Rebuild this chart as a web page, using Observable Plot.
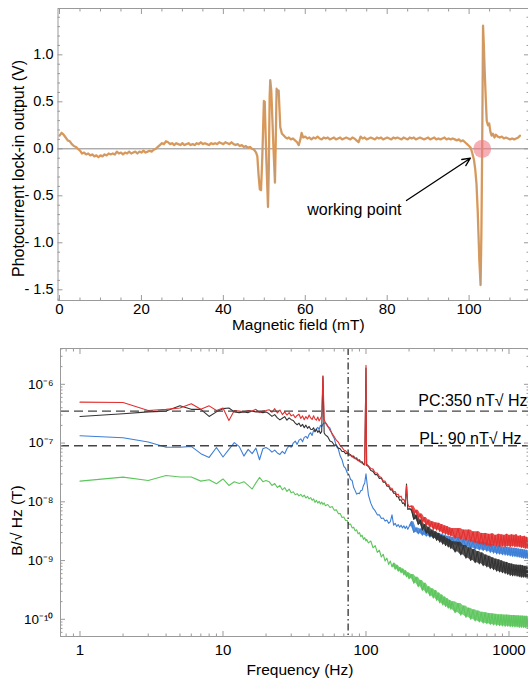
<!DOCTYPE html>
<html><head><meta charset="utf-8">
<script src="https://cdn.jsdelivr.net/npm/d3@7"></script>
<script src="https://cdn.jsdelivr.net/npm/@observablehq/plot@0.6"></script>
<style>
body{margin:0;background:#fff;width:528px;height:681px;overflow:hidden;font-family:"Liberation Sans",Arial,sans-serif}
#chart svg{display:block}
</style></head><body><div id="chart"></div>
<script>
// ---------- top panel data ----------
const fieldMT = [0,0.5,1,1.5,2,2.5,3,3.5,4,4.5,5,5.5,6,6.5,7,7.5,8,8.5,9,9.5,10,10.5,11,11.5,12,12.5,13,13.5,14,14.5,15,15.5,16,16.5,17,17.5,18,18.5,19,19.5,20,20.5,21,21.5,22,22.5,23,23.5,24,24.5,25,25.5,26,26.5,27,27.5,28,28.5,29,29.5,30,30.5,31,31.5,32,32.5,33,33.5,34,34.5,35,35.5,36,36.5,37,37.5,38,38.5,39,39.5,40,40.5,41,41.5,42,42.5,43,43.5,44,44.5,45,45.5,46,46.5,47,47.5,48,48.3,48.6,48.9,49.2,49.5,49.9,50.1,50.5,50.9,51.1,51.3,51.45,51.7,52.2,52.6,52.8,53.0,53.2,53.5,53.9,54.3,54.8,55.2,55.6,56,56.5,57,57.5,58,58.4,58.8,59.1,59.5,60,60.5,61,61.5,62,62.5,63,63.5,64,64.5,65,65.5,66,66.5,67,67.5,68,68.5,69,69.5,70,70.5,71,71.5,72,72.5,73,73.5,74,74.5,75,75.5,76,76.5,77,77.5,78,78.5,79,79.5,80,80.5,81,81.5,82,82.5,83,83.5,84,84.5,85,85.5,86,86.5,87,87.5,88,88.5,89,89.5,90,90.5,91,91.5,92,92.5,93,93.5,94,94.5,95,95.5,96,96.5,97,97.5,98,98.5,99,99.5,100,100.4,100.8,101.2,101.5,101.8,102.1,102.5,102.8,103.0,103.2,103.4,103.6,103.8,104.1,104.3,104.6,104.9,105.2,105.5,105.8,106.2,106.5,107,107.5,108,108.5,109,109.5,110,110.5,111,111.5,112,112.4];
const lockinV = [0.14,0.17,0.15,0.12,0.09,0.08,0.05,0.03,0.02,0.00,-0.02,-0.05,-0.04,-0.06,-0.05,-0.07,-0.06,-0.08,-0.07,-0.09,-0.07,-0.08,-0.06,-0.07,-0.05,-0.06,-0.05,-0.06,-0.03,-0.05,-0.04,-0.06,-0.04,-0.05,-0.03,-0.05,-0.04,-0.03,-0.05,-0.03,-0.04,-0.02,-0.04,-0.03,-0.02,-0.03,-0.01,0.00,0.02,0.04,0.06,0.05,0.08,0.07,0.05,0.06,0.04,0.06,0.05,0.04,0.06,0.04,0.05,0.06,0.04,0.05,0.04,0.06,0.05,0.07,0.05,0.06,0.05,0.04,0.06,0.05,0.06,0.05,0.07,0.06,0.05,0.07,0.06,0.05,0.07,0.05,0.04,0.05,0.03,0.04,0.02,0.03,0.01,0.02,0.00,-0.01,-0.04,-0.08,-0.28,-0.43,-0.44,-0.10,0.51,0.50,-0.12,-0.62,-0.20,0.55,0.73,0.62,0.05,-0.36,0.10,0.64,0.60,0.62,0.23,0.16,0.14,0.12,0.11,0.12,0.10,0.11,0.09,0.07,0.04,0.10,0.17,0.12,0.13,0.11,0.12,0.10,0.12,0.11,0.13,0.11,0.10,0.12,0.11,0.12,0.10,0.11,0.12,0.10,0.11,0.12,0.10,0.11,0.12,0.11,0.10,0.12,0.11,0.09,0.07,0.13,0.11,0.12,0.10,0.11,0.12,0.11,0.10,0.12,0.11,0.12,0.10,0.11,0.12,0.11,0.10,0.12,0.11,0.12,0.11,0.10,0.12,0.11,0.10,0.12,0.11,0.12,0.10,0.11,0.12,0.11,0.10,0.11,0.12,0.10,0.11,0.12,0.10,0.11,0.10,0.11,0.12,0.10,0.11,0.10,0.11,0.10,0.09,0.10,0.08,0.09,0.07,0.05,0.03,0.01,-0.05,-0.12,-0.22,-0.37,-0.66,-1.19,-1.45,-0.90,0.05,1.31,1.10,0.83,0.50,0.30,0.25,0.27,0.18,0.14,0.16,0.12,0.15,0.13,0.12,0.13,0.11,0.12,0.11,0.10,0.11,0.10,0.11,0.12,0.14];
const fieldMajorTicks = [0,20,40,60,80,100];
const fieldMinorTicks = [5,10,15,25,30,35,45,50,55,65,70,75,85,90,95,105,110];
const voltMajorTicks = [-1.5,-1.0,-0.5,0,0.5,1.0];
const voltTickLabels = ["- 1.5","- 1.0","- 0.5","0.0","0.5","1.0"];
const voltMinorTicks = [-1.6,-1.4,-1.3,-1.2,-1.1,-0.9,-0.8,-0.7,-0.6,-0.4,-0.3,-0.2,-0.1,0.1,0.2,0.3,0.4,0.6,0.7,0.8,0.9,1.1,1.2,1.3,1.4];
const workingPoint = [103.2, 0];
const arrowTail = [84.7, -0.55];
const arrowHead = [100.3, -0.1];
const pointLabel = "working point";
const pointLabelPos = [83.5, -0.65];

// ---------- bottom panel data (values in nT/√Hz) ----------
const freqHz = [1,2,3,4,5,6,7,8,9,10,11,12,13,14,15,16,17,18,19,20,
21,22,23,24,25,26,27,28,29,30,31,32,33,34,35,36,37,38,39,40,41,42,43,44,45,46,47,48,49,50,51,
52,54,56,58,60,62,64,66,68,70,72,74,76,78,80,82,84,86,88,90,92,94,96,98,100,
101,
104,108,112,116,120,124,128,132,136,140,144,148,152,156,160,164,168,172,176,180,184,188,192,196,200,
208,216,224,232,240,248,256,264,272,280,288,296,304,312,320,328,336,344,352,360,368,376,384,392,400,
420,440,460,480,500,520,540,560,580,600,620,640,660,680,700,720,740,760,780,800,820,840,860,880,900,920,940,960,980,1000,1020,1040,1060,1080,1100,1120,1140,1160,1180,1200,1220,1240,1260,1280,1300,1320,1340,1360];
const redNT = [497,490,359,375,395,467,375,430,359,395,243,359,350,340,359,350,375,330,350,359,
370,335,385,325,365,305,340,300,330,290,305,270,295,310,262,290,250,282,258,300,268,252,292,258,245,278,238,262,290,1400,250,
225,198,165,145,128,112,104,90,85,76,74,68,67,61,61,56,56,52,52,48,49,45,45,42,2100,
44,
41,37,36,31,31,27,26,22.5,22.5,19.5,19.5,17,17,14.8,15,13.2,13.5,12,12.5,10.8,11,9.5,19,9.2,8.2,
8.5,6.3,7.2,5.3,6.2,4.5,5.4,4.0,4.9,3.7,4.6,3.4,4.4,3.3,4.3,3.1,4.1,2.9,3.9,2.8,3.8,2.7,3.6,2.6,3.5,
2.4,3.5,2.3,3.3,2.2,3.3,2.1,3.1,2.0,3.1,1.9,2.9,1.85,2.9,1.8,2.8,1.75,2.85,1.8,2.7,1.75,2.8,1.7,2.75,1.75,2.7,1.7,2.8,1.75,2.7,1.7,2.75,1.75,2.7,1.7,2.75,1.7,2.6,1.7,2.65,1.65,2.55,1.65,2.6,1.6,2.5,1.6,2.45];
const blackNT = [284,315,340,350,431,375,375,284,340,385,395,340,330,340,330,350,340,340,330,340,
315,285,305,268,248,265,282,245,268,250,242,218,205,218,192,208,183,202,178,192,172,170,182,158,172,152,164,146,158,1350,148,
138,128,108,104,92,93,82,80,72,72,66,68,62,64,58,60,54,56,50,52,47,48,43,44,1900,
42,
40,34,33,29,29,25,25.5,21.5,21.5,18.5,18.5,16,16,14,14,12.2,12.2,10.6,10.8,9.4,9.6,8.4,20,7.4,7.6,
7.2,5.0,5.9,4.1,4.9,3.3,4.1,2.9,3.7,2.6,3.3,2.4,3.1,2.2,2.9,2.05,2.65,1.9,2.55,1.8,2.35,1.7,2.25,1.6,2.1,
1.4,2.05,1.25,1.8,1.1,1.65,1.0,1.55,0.92,1.42,0.88,1.35,0.82,1.25,0.78,1.18,0.73,1.12,0.7,1.06,0.66,1.03,0.64,0.99,0.62,0.95,0.6,0.93,0.58,0.89,0.56,0.87,0.55,0.85,0.55,0.84,0.54,0.83,0.53,0.83,0.52,0.82,0.52,0.8,0.52,0.8,0.51,0.8];
const blueNT = [133,123,104,85,85,88,66,57,84,58,78,102,87,60,78,66,82,52,80,84,
78,70,76,68,64,72,66,80,90,85,100,108,95,112,118,105,125,130,120,140,150,135,165,155,175,185,170,200,190,210,220,
220,190,180,140,120,88,80,60,52,40,37,31,29,24,23,17.5,15.5,13.5,14,13.8,15.5,15.8,19,21,30,
24,
13,9.5,7.8,7.0,6.0,6.0,5.2,5.3,4.7,4.9,4.3,4.6,6.0,4.0,4.3,3.8,4.1,3.7,4.0,3.6,3.9,3.5,3.85,3.4,3.75,
4.6,3.0,3.6,2.85,3.45,2.7,3.3,2.6,3.2,2.5,3.1,2.4,3.0,2.3,2.9,2.2,2.8,2.1,2.7,2.05,2.6,2.0,2.55,1.95,2.5,
1.85,2.45,1.75,2.3,1.68,2.2,1.62,2.15,1.56,2.1,1.52,2.05,1.48,2.0,1.44,1.92,1.38,1.86,1.34,1.8,1.3,1.76,1.28,1.72,1.26,1.7,1.24,1.68,1.22,1.66,1.2,1.64,1.18,1.62,1.17,1.6,1.15,1.58,1.14,1.56,1.12,1.54,1.1,1.52,1.09,1.5,1.08,1.48];
const greenNT = [22.5,26.3,23,28,26.5,26.5,22.5,23.8,20.3,24.5,19,21.9,20.5,22,19,16.5,21,26,22,23,
22,19,20.5,17.5,19,16,17.5,15,16.5,14.2,14.8,13.2,13.8,12.6,13.4,12.2,13,11.6,12.4,11.2,11.8,10.6,11.2,9.8,10.6,9.5,10.2,9.2,9.9,9.0,9.6,
8.6,9.0,8.0,8.3,7.2,7.3,6.3,6.3,5.4,5.5,4.8,4.8,4.1,4.2,3.6,3.7,3.2,3.35,2.85,3.0,2.55,2.7,2.3,2.45,2.15,
2.3,
2.0,2.15,1.65,1.8,1.38,1.5,1.15,1.28,0.98,1.1,0.86,0.98,0.78,0.9,0.71,0.83,0.66,0.76,0.62,0.72,0.57,0.67,0.53,0.62,0.49,
0.58,0.41,0.52,0.36,0.46,0.31,0.41,0.28,0.36,0.25,0.33,0.23,0.31,0.21,0.28,0.19,0.26,0.175,0.24,0.165,0.225,0.155,0.21,0.148,0.2,
0.13,0.185,0.118,0.168,0.108,0.155,0.1,0.145,0.094,0.138,0.09,0.132,0.086,0.13,0.084,0.126,0.082,0.124,0.08,0.122,0.079,0.12,0.078,0.12,0.077,0.118,0.076,0.118,0.076,0.117,0.075,0.116,0.075,0.116,0.074,0.115,0.074,0.115,0.073,0.114,0.073,0.114,0.073,0.113,0.072,0.113,0.072,0.112];
const seriesNames = ["green","blue","black","red"];
const seriesColors = ["#5cc65c","#3d7fd6","#333333","#e23030"];
const bandStartHz = [150, 200, 200, 200];   // where each trace becomes a dense noise band
const levelValuesT = [3.5e-7, 9e-8];
const levelLabels = ["PC:350 nT\u221A Hz", "PL: 90 nT\u221A Hz"];
const cutoffHz = [75];
const freqMajorTicks = [1,10,100,1000];
const freqMinorTicks = [0.8,0.9,2,3,4,5,6,7,8,9,20,30,40,50,60,70,80,90,200,300,400,500,600,700,800,900];
const bMajorTicks = [1e-10,1e-9,1e-8,1e-7,1e-6];
const bTickLabels = ["10\u207B\u00B9\u2070","10\u207B\u2079","10\u207B\u2078","10\u207B\u2077","10\u207B\u2076"];
const bMinorTicks = [6e-11,7e-11,8e-11,9e-11,2e-10,3e-10,4e-10,5e-10,6e-10,7e-10,8e-10,9e-10,2e-9,3e-9,4e-9,5e-9,6e-9,7e-9,8e-9,9e-9,2e-8,3e-8,4e-8,5e-8,6e-8,7e-8,8e-8,9e-8,2e-7,3e-7,4e-7,5e-7,6e-7,7e-7,8e-7,9e-7,2e-6,3e-6,4e-6];

// ---------- build ----------
const FONT = "'Liberation Sans', Arial, Helvetica, sans-serif";
const frameColor = "#9a9a9a";
const topData = fieldMT.map((f, i) => ({f, v: lockinV[i]}));

const topPlot = Plot.plot({
  width: 528, height: 340,
  marginLeft: 57.5, marginRight: 0, marginTop: 8, marginBottom: 40,
  style: {fontFamily: FONT, fontSize: "14.5px", color: "#000", background: "#fff"},
  x: {domain: [-0.37, 114.5]},
  y: {domain: [-1.614, 1.493]},
  marks: [
    Plot.ruleY([0], {stroke: "#888", strokeWidth: 1}),
    Plot.line(topData, {x: "f", y: "v", stroke: "#df9a57", strokeWidth: 2.3, curve: "linear"}),
    Plot.line(topData, {x: "f", y: "v", stroke: "#9a9a9a", strokeWidth: 0.6, strokeOpacity: 0.6}),
    Plot.dot([workingPoint], {x: d => d[0], y: d => d[1], r: 9, fill: "#f27a86", fillOpacity: 0.6, stroke: "none"}),
    Plot.arrow([{a: arrowTail, b: arrowHead}], {x1: d => d.a[0], y1: d => d.a[1], x2: d => d.b[0], y2: d => d.b[1], stroke: "#000", strokeWidth: 1.3, headLength: 10, headAngle: 50}),
    Plot.text([pointLabel], {x: pointLabelPos[0], y: pointLabelPos[1], textAnchor: "end", fontSize: 16}),
    Plot.frame({stroke: frameColor}),
    Plot.axisX(fieldMajorTicks, {anchor: "bottom", tickSize: -5, fill: "none", stroke: frameColor, label: null}),
    Plot.axisX(fieldMinorTicks, {anchor: "bottom", tickSize: -2.5, fill: "none", stroke: frameColor, label: null}),
    Plot.axisX(fieldMajorTicks, {anchor: "top", tickSize: -5, fill: "none", stroke: frameColor, label: null}),
    Plot.axisX(fieldMinorTicks, {anchor: "top", tickSize: -2.5, fill: "none", stroke: frameColor, label: null}),
    Plot.axisX(fieldMajorTicks, {anchor: "bottom", tickSize: 0, tickPadding: 3, stroke: "none", fill: "#000", fontSize: 15, label: null, tickFormat: d => String(d)}),
    Plot.axisY(voltMajorTicks, {anchor: "left", tickSize: -5, fill: "none", stroke: frameColor, label: null}),
    Plot.axisY(voltMinorTicks, {anchor: "left", tickSize: -2.5, fill: "none", stroke: frameColor, label: null}),
    Plot.axisY(voltMajorTicks, {anchor: "right", tickSize: -5, fill: "none", stroke: frameColor, label: null}),
    Plot.axisY(voltMinorTicks, {anchor: "right", tickSize: -2.5, fill: "none", stroke: frameColor, label: null}),
    Plot.axisY(voltMajorTicks, {anchor: "left", tickSize: 0, tickPadding: 4.5, stroke: "none", fill: "#000", fontSize: 14.5, label: null,
      tickFormat: d => voltTickLabels[voltMajorTicks.findIndex(t => Math.abs(t - d) < 1e-9)]}),
    Plot.text(["Photocurrent lock-in output (V)"], {frameAnchor: "left", rotate: -90, dx: -39, dy: 14, fontSize: 16, textAnchor: "middle", lineAnchor: "middle"}),
    Plot.text(["Magnetic field (mT)"], {frameAnchor: "bottom", dx: 5, dy: 25, fontSize: 15.5, textAnchor: "middle", lineAnchor: "middle"})
  ]
});

const noiseByName = {red: redNT, black: blackNT, blue: blueNT, green: greenNT};
const noiseMarks = seriesNames.flatMap((name, k) => {
  const rows = freqHz.map((f, i) => ({f, b: noiseByName[name][i] * 1e-9}));
  const bandRows = rows.filter(d => d.f >= bandStartHz[k]);
  return [
    Plot.areaY(bandRows, Plot.map(
      {y1: Plot.window({k: 2, anchor: "end", reduce: "min"}), y2: Plot.window({k: 2, anchor: "end", reduce: "max"})},
      {x: "f", y1: "b", y2: "b", fill: seriesColors[k], fillOpacity: 0.85})),
    Plot.line(rows, {x: "f", y: "b", stroke: seriesColors[k], strokeWidth: 1.1})
  ];
});

const bottomPlot = Plot.plot({
  width: 528, height: 341,
  marginLeft: 60, marginRight: 0, marginTop: 8, marginBottom: 45,
  style: {fontFamily: FONT, fontSize: "14.5px", color: "#000", background: "#fff"},
  x: {type: "log", domain: [0.7306, 1369]},
  y: {type: "log", domain: [5.1e-11, 4.07e-6]},
  marks: [
    ...noiseMarks,
    Plot.ruleY(levelValuesT, {stroke: "#444", strokeWidth: 1.3, strokeDasharray: "9,5"}),
    Plot.ruleX(cutoffHz, {stroke: "#333", strokeWidth: 1.3, strokeDasharray: "7,3,1.5,3"}),
    Plot.text([levelLabels[0]], {frameAnchor: "right", y: levelValuesT[0], dy: -10, dx: -1, textAnchor: "end", fontSize: 16}),
    Plot.text([levelLabels[1]], {frameAnchor: "right", y: levelValuesT[1], dy: -7, dx: -7, textAnchor: "end", fontSize: 16}),
    Plot.frame({stroke: frameColor}),
    Plot.axisX(freqMajorTicks, {anchor: "bottom", tickSize: -5, fill: "none", stroke: frameColor, label: null}),
    Plot.axisX(freqMinorTicks, {anchor: "bottom", tickSize: -2.5, fill: "none", stroke: frameColor, label: null}),
    Plot.axisX(freqMajorTicks, {anchor: "top", tickSize: -5, fill: "none", stroke: frameColor, label: null}),
    Plot.axisX(freqMinorTicks, {anchor: "top", tickSize: -2.5, fill: "none", stroke: frameColor, label: null}),
    Plot.axisX(freqMajorTicks, {anchor: "bottom", tickSize: 0, tickPadding: 8, stroke: "none", fill: "#000", fontSize: 15, label: null, tickFormat: d => String(d)}),
    Plot.axisY(bMajorTicks, {anchor: "left", tickSize: -5, fill: "none", stroke: frameColor, label: null}),
    Plot.axisY(bMinorTicks, {anchor: "left", tickSize: -2.5, fill: "none", stroke: frameColor, label: null}),
    Plot.axisY(bMajorTicks, {anchor: "right", tickSize: -5, fill: "none", stroke: frameColor, label: null}),
    Plot.axisY(bMinorTicks, {anchor: "right", tickSize: -2.5, fill: "none", stroke: frameColor, label: null}),
    Plot.axisY(bMajorTicks, {anchor: "left", tickSize: 0, tickPadding: 7, stroke: "none", fill: "#000", fontSize: 13.5, label: null,
      tickFormat: d => bTickLabels[bMajorTicks.findIndex(t => Math.abs(Math.log10(t) - Math.log10(d)) < 1e-6)]}),
    Plot.text(["B/\u221A Hz (T)"], {frameAnchor: "left", rotate: -90, dx: -43, dy: 28, fontSize: 15.5, textAnchor: "middle", lineAnchor: "middle"}),
    Plot.text(["Frequency (Hz)"], {frameAnchor: "bottom", dx: 5.5, dy: 34, fontSize: 15.5, textAnchor: "middle", lineAnchor: "middle"})
  ]
});

const chart = document.getElementById("chart");
chart.appendChild(topPlot);
chart.appendChild(bottomPlot);
</script>
</body></html>
